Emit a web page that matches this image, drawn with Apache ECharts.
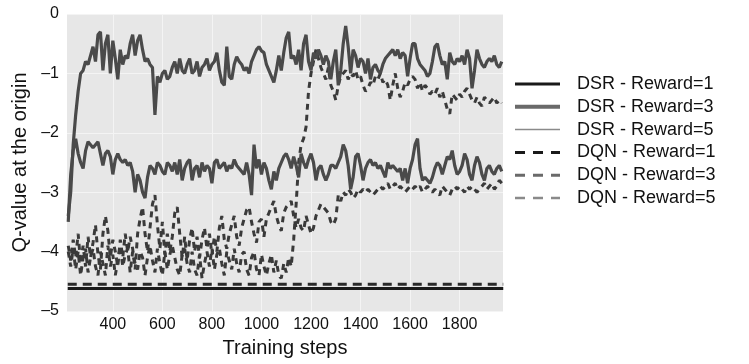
<!DOCTYPE html>
<html>
<head>
<meta charset="UTF-8">
<title>Q-value at the origin</title>
<script src="https://cdn.jsdelivr.net/npm/echarts@6/dist/echarts.min.js"></script>
<style>
  html, body { margin: 0; padding: 0; background: #fff; }
  #chart { width: 749px; height: 364px; }
</style>
</head>
<body>
<div id="chart"></div>
<script>
// x grid of the noisy curves: one value every 10 training steps from 220
var stepStart = 220, stepSize = 10;

var seriesNames = ['DSR - Reward=1', 'DSR - Reward=3', 'DSR - Reward=5',
                   'DQN - Reward=1', 'DQN - Reward=3', 'DQN - Reward=5'];
var xTicks = [400, 600, 800, 1000, 1200, 1400, 1600, 1800];
var yTicks = [0, -1, -2, -3, -4, -5];

// flat curves
var flatSteps = [218, 1976];
var dsrR1 = [-4.62, -4.62];
var dqnR1 = [-4.55, -4.55];

var dsrR5 = [
  -3.4,-3.0,-2.2,-1.7,-1.3,-1.0,-0.95,-0.8,-0.85,-0.7,
  -0.55,-0.8,-0.35,-0.3,-0.95,-0.5,-0.35,-1.0,-0.45,-0.75,
  -1.1,-0.6,-0.85,-0.7,-0.75,-0.5,-0.35,-0.7,-0.45,-0.35,
  -0.6,-0.8,-0.75,-0.85,-0.9,-1.7,-1.05,-1.15,-1.0,-0.95,
  -1.1,-1.05,-0.9,-0.8,-1.0,-0.75,-0.95,-1.0,-0.85,-0.75,
  -1.0,-0.95,-0.8,-1.05,-0.9,-0.85,-0.75,-0.95,-0.85,-0.8,
  -0.65,-0.95,-1.15,-1.2,-0.55,-1.05,-1.1,-0.85,-0.72,-0.8,
  -0.85,-0.95,-0.9,-1.0,-0.8,-0.7,-0.6,-0.55,-0.62,-0.65,
  -0.85,-0.95,-1.05,-1.15,-0.95,-0.7,-0.95,-0.65,-0.4,-0.3,
  -0.75,-0.7,-0.85,-0.6,-0.95,-0.5,-0.35,-0.8,-0.95,-0.65,
  -0.75,-0.6,-0.7,-0.85,-0.7,-0.8,-1.1,-0.8,-0.6,-1.2,
  -0.95,-0.5,-0.2,-0.55,-1.0,-0.6,-0.7,-0.9,-0.75,-0.8,
  -1.0,-0.75,-1.1,-0.9,-0.85,-0.95,-1.0,-0.85,-0.75,-0.7,
  -0.65,-0.6,-0.7,-0.6,-0.75,-0.65,-0.7,-1.05,-0.75,-0.5,
  -0.5,-0.75,-0.85,-0.9,-0.95,-1.05,-1.0,-0.8,-0.55,-0.5,
  -0.7,-0.85,-0.8,-1.1,-0.65,-0.8,-0.85,-0.75,-0.8,-0.7,
  -0.85,-0.6,-0.75,-1.25,-0.95,-0.6,-0.75,-0.85,-0.9,-0.8,
  -0.75,-0.8,-0.7,-0.85,-0.9,-0.8
];

var dsrR3 = [
  -3.5,-2.7,-2.3,-2.1,-2.35,-2.5,-2.6,-2.3,-2.15,-2.2,
  -2.25,-2.2,-2.15,-2.35,-2.55,-2.35,-2.3,-2.4,-2.7,-2.45,
  -2.35,-2.45,-2.5,-2.45,-2.55,-2.5,-2.65,-3.0,-2.7,-2.8,
  -3.0,-3.1,-2.75,-2.55,-2.6,-2.7,-2.5,-2.55,-2.65,-2.7,
  -2.5,-2.55,-2.65,-2.5,-2.7,-2.45,-2.8,-2.6,-2.5,-2.45,
  -2.8,-2.6,-2.55,-2.75,-2.5,-2.65,-2.55,-2.6,-2.85,-2.5,
  -2.45,-2.6,-2.55,-2.5,-2.65,-2.55,-2.6,-2.45,-2.55,-2.6,
  -2.65,-2.7,-2.5,-2.7,-3.05,-2.2,-2.6,-2.45,-2.7,-2.5,
  -2.6,-2.8,-2.95,-2.65,-2.8,-2.6,-2.5,-2.4,-2.35,-2.45,
  -2.6,-2.4,-2.55,-2.75,-2.35,-2.5,-2.6,-2.45,-2.35,-2.5,
  -2.8,-2.6,-2.55,-2.7,-2.8,-2.7,-2.55,-2.55,-2.6,-2.5,
  -2.4,-2.2,-2.3,-2.55,-2.95,-2.75,-2.4,-2.35,-2.55,-2.8,
  -2.6,-2.5,-2.45,-2.55,-2.5,-2.6,-2.55,-2.65,-2.75,-2.5,
  -2.6,-2.55,-2.6,-2.65,-2.6,-2.8,-2.6,-2.85,-2.6,-2.45,
  -2.2,-2.1,-2.6,-2.8,-2.75,-2.8,-2.85,-2.75,-2.6,-2.5,
  -2.55,-2.7,-2.55,-2.4,-2.45,-2.3,-2.55,-2.7,-2.65,-2.55,
  -2.35,-2.45,-2.7,-2.8,-2.55,-2.4,-2.5,-2.7,-2.8,-2.6,
  -2.55,-2.65,-2.7,-2.6,-2.55,-2.65
];

var dqnR3 = [
  -3.9,-4.15,-3.8,-4.1,-3.7,-4.2,-3.9,-4.25,-3.75,-4.1,
  -3.85,-3.55,-4.05,-4.3,-3.7,-3.4,-3.65,-4.1,-3.8,-4.0,
  -4.25,-3.8,-4.1,-3.7,-4.0,-3.75,-3.95,-4.3,-3.7,-3.45,
  -3.25,-3.7,-4.0,-3.6,-3.2,-3.05,-3.55,-3.95,-3.5,-4.05,
  -3.7,-4.0,-3.75,-3.35,-3.25,-3.7,-4.1,-3.75,-4.15,-3.8,
  -3.6,-4.0,-3.75,-4.1,-3.8,-3.6,-3.95,-3.7,-4.05,-3.75,
  -4.0,-3.6,-3.4,-3.8,-3.95,-3.7,-3.55,-3.4,-3.75,-3.9,
  -3.6,-3.45,-3.3,-3.25,-3.5,-3.7,-3.85,-3.5,-3.45,-3.75,
  -3.45,-3.35,-3.25,-3.15,-3.4,-3.55,-3.65,-3.35,-3.25,-3.2,
  -3.15,-3.4,-3.6,-3.45,-3.6,-3.65,-3.4,-3.55,-3.7,-3.6,
  -3.4,-3.3,-3.2,-3.25,-3.3,-3.35,-3.5,-3.55,-3.45,-3.05,
  -3.15,-3.0,-3.05,-2.95,-3.0,-3.1,-3.05,-2.95,-3.0,-2.95,
  -3.0,-2.95,-3.0,-3.05,-3.0,-2.95,-2.9,-2.95,-2.9,-2.85,
  -2.95,-2.9,-2.85,-2.95,-2.9,-2.95,-3.0,-2.95,-2.9,-2.95,
  -2.9,-2.95,-2.9,-3.0,-2.95,-2.9,-2.95,-3.0,-2.95,-3.0,
  -3.05,-2.9,-2.95,-3.0,-3.05,-2.95,-2.9,-2.95,-2.9,-2.95,
  -3.0,-2.9,-2.95,-2.9,-2.95,-3.0,-2.95,-2.9,-2.85,-2.95,
  -2.9,-2.85,-2.95,-2.9,-2.8,-2.85
];

var dqnR5 = [
  -4.0,-4.25,-3.95,-4.3,-4.0,-4.4,-4.1,-3.95,-4.35,-4.1,
  -3.95,-4.25,-4.4,-4.0,-4.2,-4.4,-3.9,-4.25,-4.05,-4.4,
  -4.15,-3.9,-4.25,-4.05,-3.95,-4.35,-4.0,-4.2,-4.3,-4.0,
  -4.1,-4.4,-4.1,-3.9,-4.15,-4.35,-3.95,-4.2,-4.4,-4.0,
  -4.3,-4.05,-3.9,-4.1,-4.3,-4.4,-4.05,-3.95,-4.2,-4.35,
  -4.0,-4.3,-4.4,-4.05,-4.45,-4.2,-4.0,-4.25,-3.95,-4.3,
  -4.05,-3.95,-4.2,-4.4,-4.0,-4.15,-4.3,-3.95,-4.2,-4.35,
  -4.05,-4.0,-4.3,-4.4,-4.1,-4.0,-4.3,-4.4,-4.05,-4.25,
  -4.4,-4.2,-4.05,-4.35,-4.15,-4.4,-4.45,-4.2,-4.35,-4.1,
  -4.25,-3.8,-3.2,-2.5,-2.2,-2.1,-1.9,-1.3,-1.0,-0.8,
  -0.6,-0.75,-0.9,-1.0,-1.1,-0.9,-1.2,-1.3,-1.45,-1.2,
  -1.05,-1.0,-0.95,-1.1,-1.0,-1.05,-0.95,-1.1,-1.05,-1.2,
  -1.3,-1.25,-1.15,-1.2,-1.05,-1.1,-1.0,-1.15,-1.1,-1.2,
  -1.45,-1.2,-1.0,-1.25,-1.4,-1.3,-1.15,-1.2,-1.1,-1.05,
  -1.1,-1.25,-1.15,-1.3,-1.2,-1.25,-1.35,-1.3,-1.35,-1.25,
  -1.4,-1.3,-1.45,-1.6,-1.68,-1.35,-1.4,-1.45,-1.35,-1.4,
  -1.3,-1.25,-1.35,-1.45,-1.5,-1.4,-1.5,-1.55,-1.4,-1.45,
  -1.5,-1.45,-1.4,-1.5,-1.45,-1.5
];

function pairs(xs, ys) {
    return ys.map(function (v, i) { return [xs[i], v]; });
}
function gridSteps(ys) {
    return ys.map(function (_, i) { return stepStart + i * stepSize; });
}

var font = 'Liberation Sans, Arial, sans-serif';

var chart = echarts.init(document.getElementById('chart'), null, { renderer: 'canvas' });

// legend icons differ from the plotted strokes, as in the figure
var legendLines = [
    { color: '#1a1a1a', width: 3, type: 'solid' },
    { color: '#6a6a6a', width: 4, type: 'solid' },
    { color: '#8a8a8a', width: 1.5, type: 'solid' },
    { color: '#1a1a1a', width: 3, type: [10, 8] },
    { color: '#6a6a6a', width: 3, type: [10, 8] },
    { color: '#8a8a8a', width: 2.5, type: [10, 8] }
];
// no marker dot in the legend, only the stroke
var noDot = { color: 'rgba(0,0,0,0)', borderColor: 'rgba(0,0,0,0)', borderWidth: 0, opacity: 0 };

var option = {
    animation: false,
    backgroundColor: '#ffffff',
    grid: {
        left: 67, right: 246, top: 14, bottom: 53,
        show: true, backgroundColor: '#e7e7e7', borderWidth: 0
    },
    legend: {
        orient: 'vertical',
        left: 513, top: 75, padding: 0,
        itemWidth: 45, itemHeight: 18, itemGap: 4.8,
        itemStyle: noDot,
        textStyle: { fontFamily: font, fontSize: 18, color: '#111', padding: [0, 0, 0, 12] },
        data: seriesNames.map(function (n, i) {
            return { name: n, lineStyle: legendLines[i], itemStyle: noDot };
        })
    },
    xAxis: {
        type: 'value',
        min: 215, max: 1975,
        name: 'Training steps',
        nameLocation: 'middle',
        nameGap: 27,
        nameTextStyle: { fontFamily: font, fontSize: 20, color: '#111' },
        axisLine: { show: false },
        axisTick: { show: false, customValues: xTicks },
        axisLabel: {
            customValues: xTicks, fontFamily: font, fontSize: 16, color: '#111', margin: 6,
            formatter: function (v) { return String(v); }
        },
        splitLine: { show: true, lineStyle: { color: '#f4f4f4', width: 1 } }
    },
    yAxis: {
        type: 'value',
        min: -5, max: 0, interval: 1,
        name: 'Q-value at the origin',
        nameLocation: 'middle',
        nameGap: 34,
        nameTextStyle: { fontFamily: font, fontSize: 20, color: '#111' },
        axisLine: { show: false },
        axisTick: { show: false },
        axisLabel: {
            fontFamily: font, fontSize: 16, color: '#111', margin: 8,
            formatter: function (v) { return yTicks.indexOf(v) >= 0 ? String(v).replace('-', '\u2013') : ''; }
        },
        splitLine: { show: true, lineStyle: { color: '#f4f4f4', width: 1 } }
    },
    series: [
        { name: seriesNames[0], type: 'line', data: pairs(flatSteps, dsrR1), symbol: 'none', z: 3,
          lineStyle: { color: '#1a1a1a', width: 3 }, itemStyle: { color: '#1a1a1a' } },
        { name: seriesNames[1], type: 'line', data: pairs(gridSteps(dsrR3), dsrR3), symbol: 'none', z: 3,
          lineStyle: { color: '#4a4a4a', width: 3.2 }, itemStyle: { color: '#6a6a6a' } },
        { name: seriesNames[2], type: 'line', data: pairs(gridSteps(dsrR5), dsrR5), symbol: 'none', z: 3,
          lineStyle: { color: '#4a4a4a', width: 3.2 }, itemStyle: { color: '#8a8a8a' } },
        { name: seriesNames[3], type: 'line', data: pairs(flatSteps, dqnR1), symbol: 'none', z: 2,
          lineStyle: { color: '#2a2a2a', width: 3, type: [9, 6] }, itemStyle: { color: '#1a1a1a' } },
        { name: seriesNames[4], type: 'line', data: pairs(gridSteps(dqnR3), dqnR3), symbol: 'none', z: 2,
          lineStyle: { color: '#3a3a3a', width: 3, type: [6, 5] }, itemStyle: { color: '#6a6a6a' } },
        { name: seriesNames[5], type: 'line', data: pairs(gridSteps(dqnR5), dqnR5), symbol: 'none', z: 2,
          lineStyle: { color: '#3a3a3a', width: 3, type: [6, 5] }, itemStyle: { color: '#8a8a8a' } }
    ]
};
chart.setOption(option);
</script>
</body>
</html>
